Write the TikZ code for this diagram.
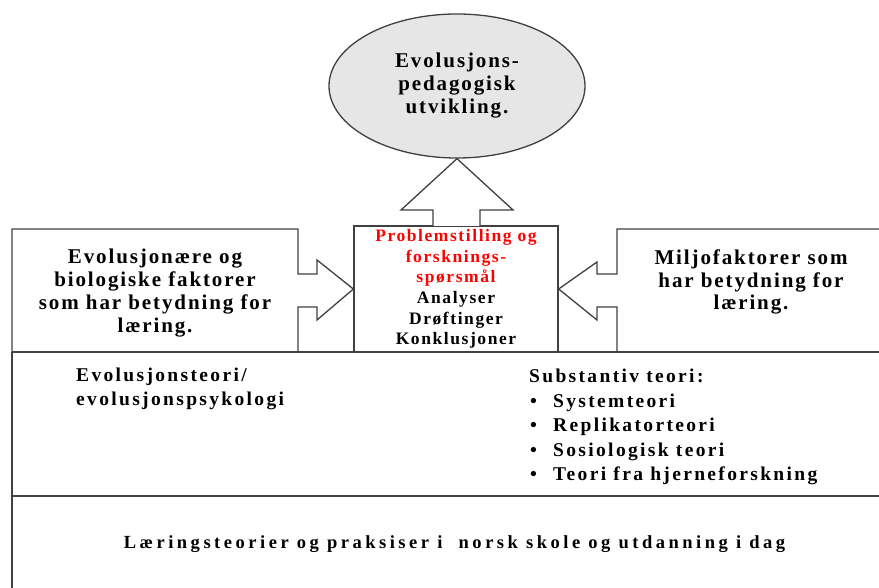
\documentclass[tikz,border=0pt]{standalone}
\usepackage{fontspec}
\setmainfont{Liberation Serif}
% tracked bold serif faces for the different text groups
\newfontfamily\trackbig{Liberation Serif}[LetterSpace=9]
\newfontfamily\trackcore{Liberation Serif}[LetterSpace=9]
\newfontfamily\tracktheory{Liberation Serif}[LetterSpace=12]
\newfontfamily\trackbase{Liberation Serif}[LetterSpace=19]
\usetikzlibrary{shapes.geometric}
\definecolor{edge}{HTML}{404040}
\definecolor{bubble}{HTML}{E6E6E6}
\definecolor{headline}{HTML}{FF0000}

\begin{document}
\begin{tikzpicture}[x=1pt,y=-1pt,
  outline/.style={draw=edge,line width=1.3pt,line join=miter},
  bigtext/.style={font=\trackbig\bfseries\fontsize{21}{22.7}\selectfont,align=center,inner sep=0pt},
  coretext/.style={font=\trackcore\bfseries\fontsize{17.5}{20.6}\selectfont,align=center},
  theorytext/.style={font=\tracktheory\bfseries\fontsize{19.5}{24.6}\selectfont,align=left,inner sep=0pt,anchor=west},
  basetext/.style={font=\trackbase\bfseries\fontsize{18.5}{22}\selectfont,inner sep=0pt,anchor=base}]
\useasboundingbox (0,0) rectangle (879,588);
\clip (0,0) rectangle (879,588);

% goal ellipse and the central research box
\node[outline, ellipse, fill=bubble, minimum width=256pt, minimum height=144pt,
      inner sep=0pt, bigtext, font=\trackbig\bfseries\fontsize{21}{23}\selectfont] (goal) at (457,86)
  {Evolusjons-\\pedagogisk\\utvikling.};
\node[outline, rectangle, minimum width=204pt, minimum height=126pt, inner sep=0pt,
      coretext] (core) at (456,289)
  {\textcolor{headline}{Problemstilling og}\\\textcolor{headline}{forsknings-}\\\textcolor{headline}{spørsmål}\\Analyser\\Drøftinger\\Konklusjoner};

% block arrow from the research box up to the goal
\draw[outline, fill=white] (433,226) -- (433,210) -- (401,210) -- (goal.south)
  -- (513,210) -- (480,210) -- (480,226);

% left callout pointing into the research box
\draw[outline] (12,352) -- (12,229) -- (298,229) -- (298,274) -- (317,274) -- (317,260)
  -- (core.west) -- (317,320) -- (317,307) -- (298,307) -- (298,352);
% right callout pointing into the research box
\draw[outline] (886,229) -- (617,229) -- (617,274) -- (597,274) -- (597,262)
  -- (core.east) -- (597,320) -- (597,307) -- (617,307) -- (617,352);

% lower frame with its two bands
\draw[outline] (12,352) -- (12,592);
\draw[outline] (12,352) -- (886,352);
\draw[outline] (12,496) -- (886,496);

% callout texts
\node[bigtext] (biofactors) at (155,293)
  {Evolusjonære og\\biologiske faktorer\\som har betydning for\\læring.};
\node[bigtext] (envfactors) at (751,282)
  {Miljofaktorer som\\har betydning for\\læring.};

% theory band
\node[theorytext] (evotheory) at (76,389)
  {Evolusjonsteori/\\evolusjonspsykologi};
\node[theorytext] (subtheory) at (529,427)
  {Substantiv teori:\\
   \makebox[24pt][l]{\hspace{1pt}\textbullet}Systemteori\\
   \makebox[24pt][l]{\hspace{1pt}\textbullet}Replikatorteori\\
   \makebox[24pt][l]{\hspace{1pt}\textbullet}Sosiologisk teori\\
   \makebox[24pt][l]{\hspace{1pt}\textbullet}Teori fra hjerneforskning};

% practice band
\node[basetext] (practice) at (454.5,548)
  {Læringsteorier og praksiser i~\ norsk skole og utdanning i dag};
\end{tikzpicture}
\end{document}
